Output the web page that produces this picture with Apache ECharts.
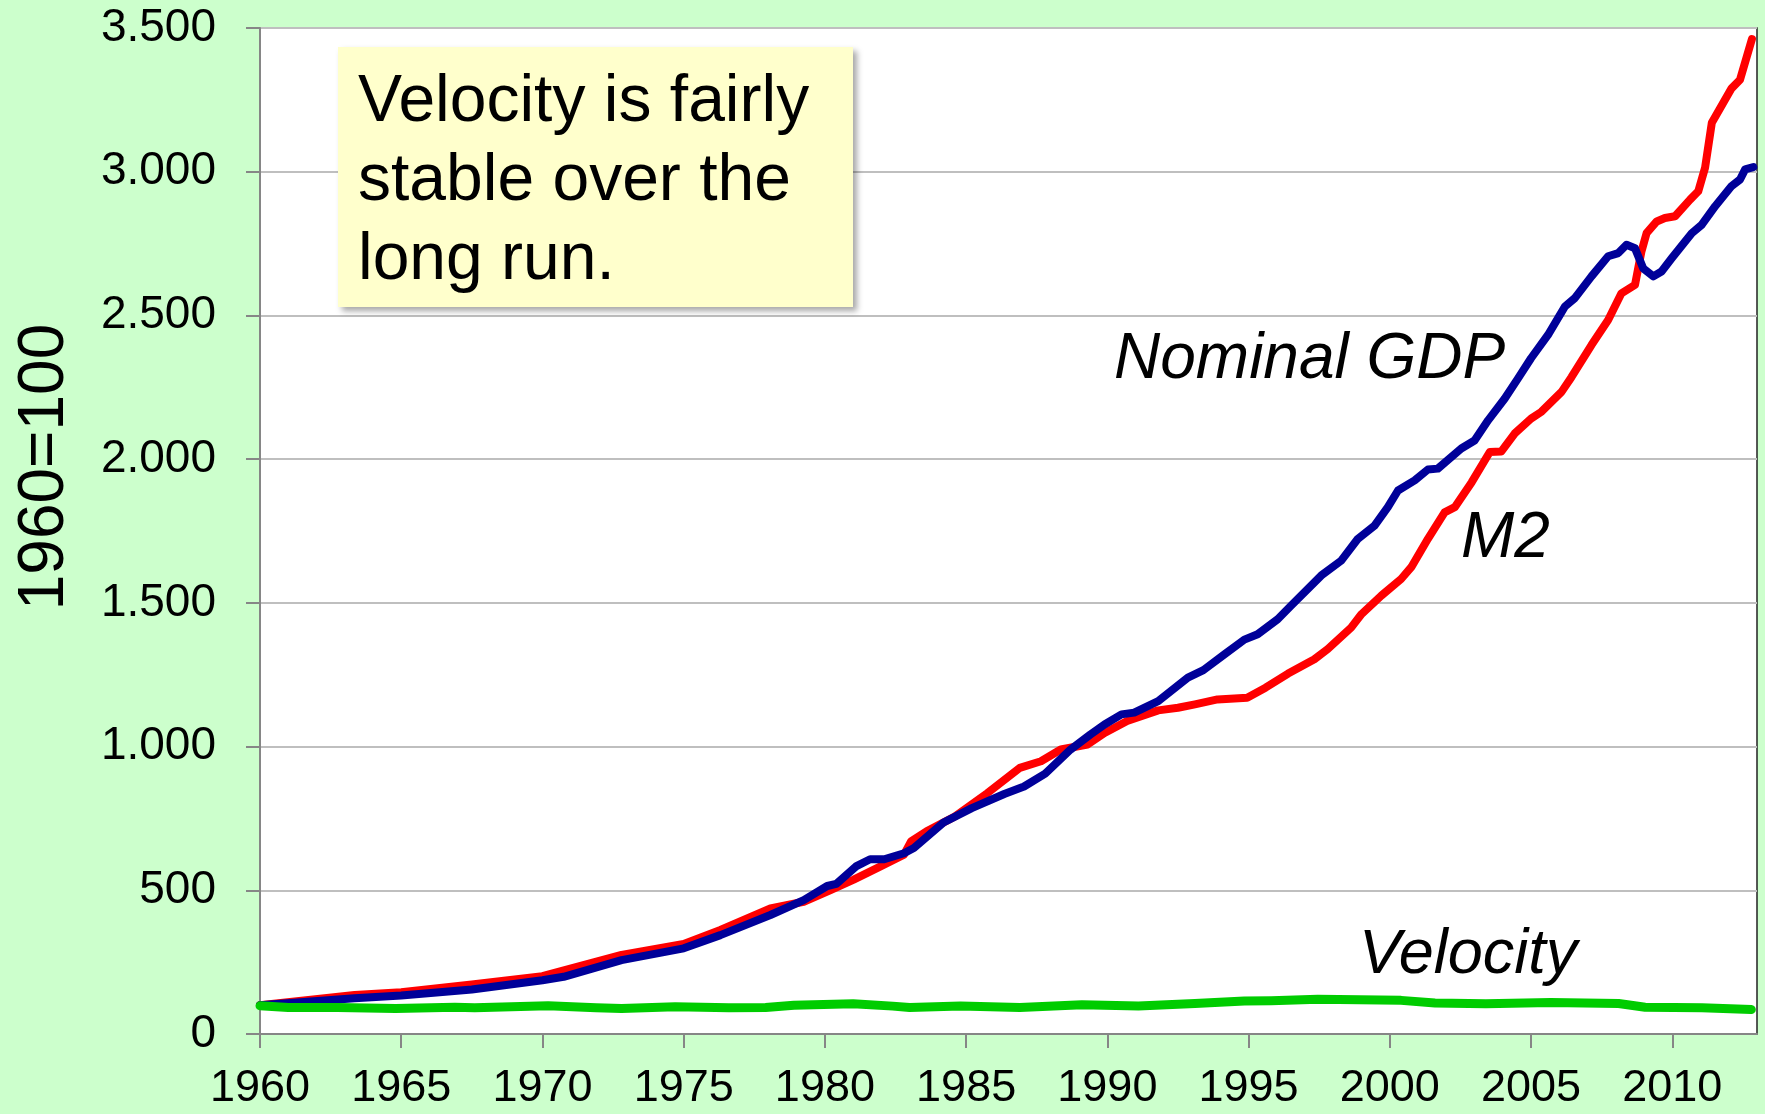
<!DOCTYPE html>
<html>
<head>
<meta charset="utf-8">
<script src="https://cdn.jsdelivr.net/npm/echarts@6/dist/echarts.min.js"></script>
<style>
html,body{margin:0;padding:0;background:#CCFFCC;}
#chart{width:1765px;height:1114px;}
</style>
</head>
<body>
<div id="chart"></div>
<script>
// ---- data (index, 1960 = 100) ----
const gdpYears = [1960.0,1963.35,1965.0,1967.5,1970.0,1970.75,1972.8,1975.0,1976.3,1978.07,1979.25,1980.08,1980.4,1981.1,1981.6,1982.1,1982.8,1983.15,1984.2,1985.2,1986.35,1987.05,1987.8,1988.7,1989.4,1989.9,1990.5,1990.95,1991.8,1992.85,1993.4,1994.15,1994.85,1995.32,1996.03,1996.5,1997.57,1998.28,1998.87,1999.46,1999.93,2000.29,2000.88,2001.35,2001.7,2002.53,2003.0,2003.48,2004.07,2004.54,2005.0,2005.6,2006.2,2006.55,2007.14,2007.73,2008.09,2008.38,2008.68,2008.97,2009.33,2009.62,2009.98,2010.69,2011.04,2011.52,2012.1,2012.4,2012.58,2012.87];
const gdpValues = [100,124,134,155,187,199,257,298,344,414,466,515,522,583,608,608,629,647,736,786,835,861,906,990,1042,1077,1112,1118,1158,1240,1266,1321,1372,1391,1443,1490,1595,1647,1723,1769,1833,1891,1926,1964,1967,2037,2065,2135,2211,2281,2351,2432,2531,2560,2636,2706,2717,2746,2734,2664,2636,2653,2699,2786,2815,2880,2950,2973,3008,3016];

const m2Years = [1960.0,1963.35,1965.0,1967.5,1970.0,1972.8,1975.0,1976.3,1978.07,1979.25,1980.2,1981.0,1981.97,1982.8,1983.05,1983.6,1984.6,1985.75,1986.9,1987.65,1988.35,1989.3,1989.9,1990.7,1991.8,1992.5,1993.1,1993.9,1994.95,1995.6,1996.4,1997.33,1997.8,1998.63,1999.0,1999.7,2000.4,2000.76,2001.35,2001.94,2002.3,2002.9,2003.54,2003.95,2004.42,2005.0,2005.37,2006.08,2006.43,2007.14,2007.73,2008.2,2008.68,2008.91,2009.09,2009.45,2009.74,2010.1,2010.63,2010.92,2011.16,2011.4,2011.75,2012.1,2012.4,2012.82];
const m2Values = [100,136,145,172,201,275,313,362,437,460,501,536,583,624,670,705,757,838,926,949,990,1007,1047,1089,1126,1135,1147,1164,1170,1205,1254,1304,1339,1414,1461,1525,1583,1624,1723,1815,1833,1920,2025,2027,2089,2141,2165,2234,2285,2397,2484,2577,2606,2723,2786,2827,2839,2845,2903,2932,3013,3170,3230,3290,3320,3461];

const velYears = [1960.0,1961.0,1962.75,1964.8,1966.9,1967.6,1970.2,1971.9,1972.8,1974.7,1976.6,1977.9,1978.9,1981.0,1982.4,1983.0,1984.8,1986.9,1989.1,1991.1,1993.1,1994.85,1995.8,1997.45,2000.4,2001.6,2003.4,2005.7,2008.1,2009.04,2011.05,2012.8];
const velValues = [98,92,92,88.5,93,91,98,91,88.5,95,91,92,100,105,97,92,97,92,102,97,106,115,116,121,117,108,105,110,106,93,91,85];

const xTickLabels = [1960,1965,1970,1975,1980,1985,1990,1995,2000,2005,2010];
const yTickValues = [0,500,1000,1500,2000,2500,3000,3500];

const seriesNames = ['M2','Nominal GDP','Velocity'];
const noteText = ['Velocity is fairly','stable over the','long run.'];
const yAxisTitle = '1960=100';

// ---- chart ----
function zip(xs, ys){ return xs.map((x,i)=>[x, ys[i]]); }
function fmtThousands(v){
  return String(v).replace(/\B(?=(\d{3})+(?!\d))/g, '.');
}
const FONT = '"Liberation Sans", Arial, Helvetica, sans-serif';
const chart = echarts.init(document.getElementById('chart'), null, {renderer:'canvas'});
const lineBase = {type:'line', showSymbol:false, symbol:'none', smooth:false, animation:false};

chart.setOption({
  backgroundColor:'#CCFFCC',
  animation:false,
  textStyle:{fontFamily:FONT},
  grid:{left:260, right:8, top:28, bottom:80, show:true, backgroundColor:'#FFFFFF', borderColor:'#222222', borderWidth:1.5},
  xAxis:{
    type:'value', min:1960, max:2013, interval:5,
    axisLine:{show:true, onZero:false, lineStyle:{color:'#868686', width:2}},
    axisTick:{show:true, length:14, lineStyle:{color:'#868686', width:2}, customValues:xTickLabels},
    axisLabel:{fontSize:45, color:'#000', margin:32, fontFamily:FONT, customValues:xTickLabels,
      formatter:(v)=>String(v)},
    splitLine:{show:false}
  },
  yAxis:{
    type:'value', min:0, max:3500, interval:500,
    axisLine:{show:true, lineStyle:{color:'#868686', width:2}},
    axisTick:{show:true, length:14, lineStyle:{color:'#868686', width:2}},
    axisLabel:{fontSize:46, color:'#000', margin:44, fontFamily:FONT, formatter:(v)=>fmtThousands(v)},
    splitLine:{show:true, lineStyle:{color:'#BFBFBF', width:2}}
  },
  series:[
    Object.assign({}, lineBase, {name:seriesNames[0], data:zip(m2Years, m2Values), z:2,
      lineStyle:{color:'#FF0000', width:8, cap:'round', join:'round'}}),
    Object.assign({}, lineBase, {name:seriesNames[1], data:zip(gdpYears, gdpValues), z:3,
      lineStyle:{color:'#000099', width:8, cap:'round', join:'round'}}),
    Object.assign({}, lineBase, {name:seriesNames[2], data:zip(velYears, velValues), z:4,
      lineStyle:{color:'#00CC00', width:9, cap:'round', join:'round'}})
  ],
  graphic:[
    {type:'rect', shape:{x:338, y:47, width:515, height:260}, z:10,
      style:{fill:'#FFFFCC', shadowBlur:6, shadowOffsetX:4, shadowOffsetY:4, shadowColor:'rgba(0,0,0,0.35)'}},
    {type:'text', x:358, y:63, z:11,
      style:{text:noteText.join('\n'), font:'66px '+FONT, fill:'#000', lineHeight:79, textAlign:'left', textVerticalAlign:'top'}},
    {type:'text', x:1114, y:360, z:11,
      style:{text:seriesNames[1], font:'italic 64px '+FONT, fill:'#000', textAlign:'left', textVerticalAlign:'middle'}},
    {type:'text', x:1461, y:539, z:11,
      style:{text:seriesNames[0], font:'italic 64px '+FONT, fill:'#000', textAlign:'left', textVerticalAlign:'middle'}},
    {type:'text', x:1359, y:955, z:11,
      style:{text:seriesNames[2], font:'italic 63px '+FONT, fill:'#000', textAlign:'left', textVerticalAlign:'middle'}},
    {type:'text', x:45, y:467, rotation:Math.PI/2, z:11,
      style:{text:yAxisTitle, font:'64px '+FONT, fill:'#000', textAlign:'center', textVerticalAlign:'middle'}}
  ]
});
</script>
</body>
</html>
